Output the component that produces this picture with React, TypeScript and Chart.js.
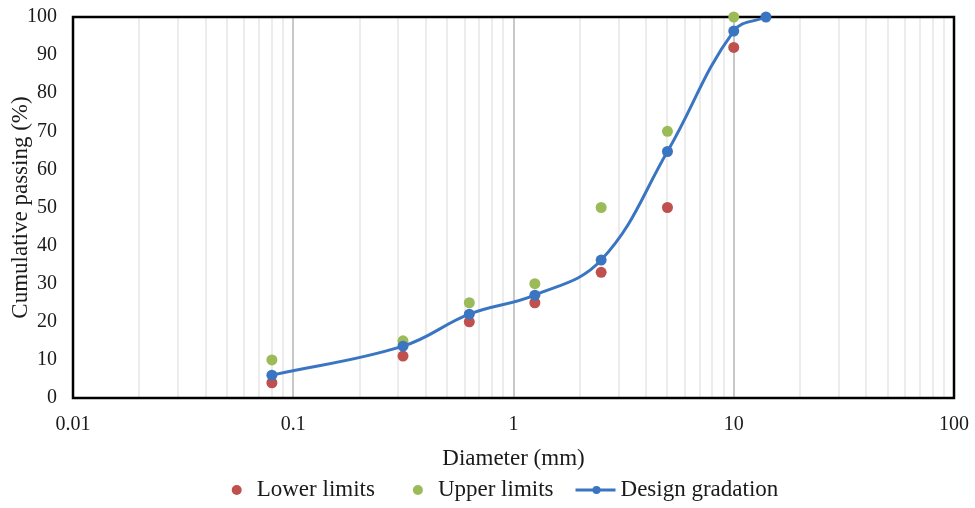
import React, { useEffect, useRef } from 'react';
import { Chart, registerables } from 'chart.js';

Chart.register(...registerables);

// ---- data ----
const sieveSizes = [0.08, 0.315, 0.63, 1.25, 2.5, 5, 10, 14];
const lowerLimits = [4, 11, 20, 25, 33, 50, 92];
const upperLimits = [10, 15, 25, 30, 50, 70, 100];
const designGradation = [6, 13.6, 22, 27, 36.2, 64.7, 96.3, 100];

const xMajorTicks = [0.01, 0.1, 1, 10, 100];
const xTickLabels = ['0.01', '0.1', '1', '10', '100'];
const minorMultipliers = [2, 3, 4, 5, 6, 7, 8, 9];

const seriesNames = ['Lower limits', 'Upper limits', 'Design gradation'];

const FONT = '"Liberation Serif", "Times New Roman", serif';
const TEXT = '#1a1a1a';
const RED = '#C0504D';
const GREEN = '#9BBB59';
const BLUE = '#3A75C2';

const allXTicks: number[] = [];
xMajorTicks.forEach((m, i) => {
  allXTicks.push(m);
  if (i < xMajorTicks.length - 1) {
    minorMultipliers.forEach((d) => allXTicks.push(Number((d * m).toPrecision(6))));
  }
});

const isMajor = (v: number) => xMajorTicks.some((m) => Math.abs(m - v) < m * 1e-6);

const framePlugin = {
  id: 'frame',
  beforeDatasetsDraw(chart: any) {
    const { ctx, chartArea } = chart;
    ctx.save();
    ctx.strokeStyle = '#000';
    ctx.lineWidth = 2.5;
    ctx.strokeRect(chartArea.left, chartArea.top, chartArea.right - chartArea.left, chartArea.bottom - chartArea.top);
    ctx.restore();
  },
};

const legendPlugin = {
  id: 'bottomLegend',
  afterDraw(chart: any) {
    const { ctx, chartArea } = chart;
    const ds = chart.data.datasets;
    ctx.save();
    ctx.font = `23px ${FONT}`;
    ctx.textBaseline = 'middle';
    const y = chartArea.bottom + 92;
    const gaps = [38, 22];
    const widths = ds.map((d: any, i: number) => {
      const tw = ctx.measureText(d.label).width;
      return i === 2 ? 45 + tw : 25 + tw;
    });
    const total = widths.reduce((a: number, b: number) => a + b, 0) + gaps[0] + gaps[1];
    let x = (chartArea.left + chartArea.right) / 2 - 8.5 - total / 2;
    ds.forEach((d: any, i: number) => {
      if (i < 2) {
        ctx.fillStyle = d.backgroundColor;
        ctx.beginPath();
        ctx.arc(x + 5, y, 5, 0, Math.PI * 2);
        ctx.fill();
        ctx.fillStyle = TEXT;
        ctx.fillText(d.label, x + 25, y);
      } else {
        ctx.strokeStyle = d.borderColor;
        ctx.lineWidth = 3;
        ctx.beginPath();
        ctx.moveTo(x, y);
        ctx.lineTo(x + 40, y);
        ctx.stroke();
        ctx.fillStyle = d.backgroundColor;
        ctx.beginPath();
        ctx.arc(x + 21, y, 4, 0, Math.PI * 2);
        ctx.fill();
        ctx.fillStyle = TEXT;
        ctx.fillText(d.label, x + 45, y);
      }
      x += widths[i] + (i < 2 ? gaps[i] : 0);
    });
    ctx.restore();
  },
};

export default function App() {
  const canvasRef = useRef<HTMLCanvasElement | null>(null);

  useEffect(() => {
    if (!canvasRef.current) return;
    const chart = new Chart(canvasRef.current, {
      type: 'scatter',
      data: {
        datasets: [
          {
            label: seriesNames[0],
            data: lowerLimits.map((v, i) => ({ x: sieveSizes[i], y: v })),
            backgroundColor: RED,
            borderColor: RED,
            pointRadius: 5.5,
            pointBorderWidth: 0,
            showLine: false,
            clip: false,
            order: 3,
          },
          {
            label: seriesNames[1],
            data: upperLimits.map((v, i) => ({ x: sieveSizes[i], y: v })),
            backgroundColor: GREEN,
            borderColor: GREEN,
            pointRadius: 5.5,
            pointBorderWidth: 0,
            showLine: false,
            clip: false,
            order: 2,
          },
          {
            label: seriesNames[2],
            data: designGradation.map((v, i) => ({ x: sieveSizes[i], y: v })),
            backgroundColor: BLUE,
            borderColor: BLUE,
            borderWidth: 3,
            pointRadius: 5.5,
            pointBorderWidth: 0,
            showLine: true,
            tension: 0.4,
            clip: false,
            order: 1,
          },
        ],
      },
      options: {
        animation: false,
        responsive: true,
        maintainAspectRatio: false,
        layout: { padding: { left: 0, right: 21, top: 17, bottom: 35 } },
        plugins: {
          legend: { display: false },
          tooltip: { enabled: false },
        },
        scales: {
          x: {
            type: 'logarithmic',
            min: 0.01,
            max: 100,
            afterBuildTicks: (scale: any) => {
              scale.ticks = allXTicks.map((v) => ({ value: v }));
            },
            afterFit: (scale: any) => {
              scale.height = 75;
              scale.paddingLeft = 0;
              scale.paddingRight = 0;
            },
            grid: {
              drawTicks: false,
              lineWidth: 2,
              color: (c: any) => (c.tick && isMajor(c.tick.value) ? '#c8c8c8' : '#ececec'),
            },
            border: { display: false },
            ticks: {
              autoSkip: false,
              maxRotation: 0,
              minRotation: 0,
              padding: 15,
              color: TEXT,
              font: { family: FONT, size: 20 },
              callback: (v: any) => {
                const i = xMajorTicks.findIndex((m) => Math.abs(m - Number(v)) < m * 1e-6);
                return i >= 0 ? xTickLabels[i] : '';
              },
            },
            title: {
              display: true,
              text: 'Diameter (mm)',
              color: TEXT,
              font: { family: FONT, size: 23 },
              padding: { top: 0, bottom: 0 },
            },
          },
          y: {
            type: 'linear',
            min: 0,
            max: 100,
            afterFit: (scale: any) => {
              scale.width = 73;
              scale.paddingTop = 0;
              scale.paddingBottom = 0;
            },
            grid: { display: false, drawTicks: false },
            border: { display: false },
            ticks: {
              stepSize: 10,
              padding: 16,
              color: TEXT,
              font: { family: FONT, size: 20 },
            },
            title: {
              display: true,
              text: 'Cumulative passing (%)',
              color: TEXT,
              font: { family: FONT, size: 23 },
              padding: { top: 7, bottom: 0 },
            },
          },
        },
      },
      plugins: [framePlugin, legendPlugin],
    } as any);
    return () => chart.destroy();
  }, []);

  return (
    <div style={{ position: 'fixed', left: 0, top: 0, width: 975, height: 508, background: '#fff' }}>
      <canvas ref={canvasRef} />
    </div>
  );
}
